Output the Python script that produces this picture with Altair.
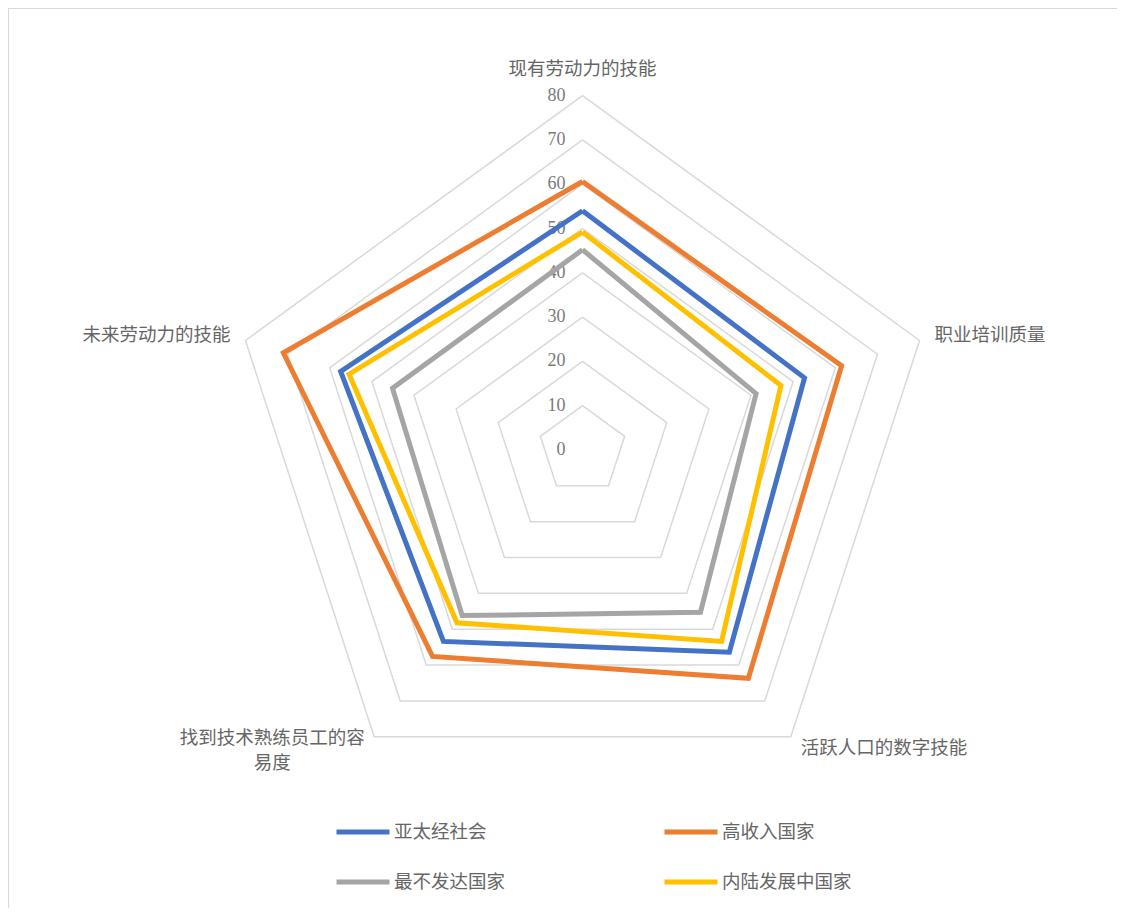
import math
import altair as alt
import pandas as pd

# ---- data ----
categories = ["现有劳动力的技能", "职业培训质量", "活跃人口的数字技能",
              "找到技术熟练员工的容易度", "未来劳动力的技能"]
category_labels = ["现有劳动力的技能", "职业培训质量", "活跃人口的数字技能",
                   "找到技术熟练员工的容|易度", "未来劳动力的技能"]
series = ["亚太经社会", "高收入国家", "最不发达国家", "内陆发展中国家"]
legend_order = ["亚太经社会", "最不发达国家", "高收入国家", "内陆发展中国家"]
values_apac = [54.0, 52.7, 56.4, 53.4, 57.4]
values_high = [60.6, 61.5, 63.7, 57.6, 71.0]
values_ldc = [45.2, 41.2, 45.3, 46.2, 45.1]
values_lldc = [49.2, 47.1, 53.4, 48.2, 55.4]
ticks = [0, 10, 20, 30, 40, 50, 60, 70, 80]
colors = ["#4472C4", "#ED7D31", "#A5A5A5", "#FFC000"]

W, H = 1109, 900
K = 4.43  # px per unit
CX, CY = 574.5, 442
xdom = [-CX / K, (W - CX) / K]
ydom = [-(H - CY) / K, CY / K]

n = len(categories)
all_values = [values_apac, values_high, values_ldc, values_lldc]
rows = []
for s, vals in zip(series, all_values):
    for i in range(n + 1):
        rows.append({"series": s, "idx": i % n, "order": i, "value": vals[i % n]})
df_series = pd.DataFrame(rows)

ring_rows = []
for t in ticks[1:]:
    for i in range(n + 1):
        ring_rows.append({"ring": t, "idx": i % n, "order": i, "value": t})
df_rings = pd.DataFrame(ring_rows)

df_ticks = pd.DataFrame({"tick": ticks})
df_cats = pd.DataFrame({"cat": categories, "label": category_labels,
                        "idx": list(range(n)), "value": [ticks[-1]] * n})

xs = alt.Scale(domain=xdom, nice=False, zero=False)
ys = alt.Scale(domain=ydom, nice=False, zero=False)


def polar(ch):
    return ch.transform_calculate(
        ang="datum.idx * 2 * PI / %d" % n
    ).transform_calculate(
        px="datum.value * sin(datum.ang)",
        py="datum.value * cos(datum.ang)",
    )


rings = polar(alt.Chart(df_rings)).mark_line(
    color="#d9d9d9", strokeWidth=1.5
).encode(
    x=alt.X("px:Q", scale=xs, axis=None),
    y=alt.Y("py:Q", scale=ys, axis=None),
    detail="ring:N",
    order="order:Q",
)

lines = polar(alt.Chart(df_series)).mark_line(
    strokeWidth=5, strokeJoin="miter"
).encode(
    x=alt.X("px:Q", scale=xs, axis=None),
    y=alt.Y("py:Q", scale=ys, axis=None),
    color=alt.Color(
        "series:N",
        scale=alt.Scale(domain=series, range=colors),
        sort=series,
        legend=alt.Legend(
            title=None, orient="none", legendX=326, legendY=795, columns=2,
            values=legend_order,
            symbolType="stroke", symbolSize=2809, symbolStrokeWidth=5,
            labelFontSize=18.5, labelFont="Noto Sans CJK SC", labelColor="#666666",
            columnPadding=148, rowPadding=11, labelOffset=2,
        ),
    ),
    order="order:Q",
)

tick_text = alt.Chart(df_ticks).transform_calculate(zx="0").mark_text(
    align="right", baseline="middle", dx=-17,
    font="Liberation Serif", fontSize=18, color="#7a7a7a",
).encode(
    x=alt.X("zx:Q", scale=xs, axis=None),
    y=alt.Y("tick:Q", scale=ys, axis=None),
    text="tick:Q",
)

label_styles = [
    dict(align="center", baseline="middle", dx=0, dy=-27),
    dict(align="left", baseline="middle", dx=15, dy=-5),
    dict(align="left", baseline="middle", dx=10, dy=11),
    dict(align="center", baseline="top", dx=-102, dy=-8, lineBreak="|", lineHeight=25),
    dict(align="right", baseline="middle", dx=-15, dy=-5),
]
label_layers = []
for k, st in enumerate(label_styles):
    label_layers.append(
        polar(alt.Chart(df_cats)).transform_filter("datum.idx == %d" % k).mark_text(
            font="Noto Sans CJK SC", fontSize=18.5, color="#666666", **st
        ).encode(
            x=alt.X("px:Q", scale=xs, axis=None),
            y=alt.Y("py:Q", scale=ys, axis=None),
            text="label:N",
        )
    )

border_df = pd.DataFrame({"a": [0]})
top_border = alt.Chart(border_df).mark_rule(color="#d9d9d9", strokeWidth=1).encode(
    x=alt.value(0), x2=alt.value(W), y=alt.value(0.5)
)
left_border = alt.Chart(border_df).mark_rule(color="#d9d9d9", strokeWidth=1).encode(
    x=alt.value(0.5), y=alt.value(0), y2=alt.value(H)
)

chart = alt.layer(
    top_border, left_border, rings, tick_text, lines, *label_layers
).properties(
    width=W, height=H, autosize=alt.AutoSizeParams(type="none"), padding=0,
    background="white",
).configure_view(stroke=None)

chart.save("out.html", embed_options={"renderer": "svg", "actions": False})
